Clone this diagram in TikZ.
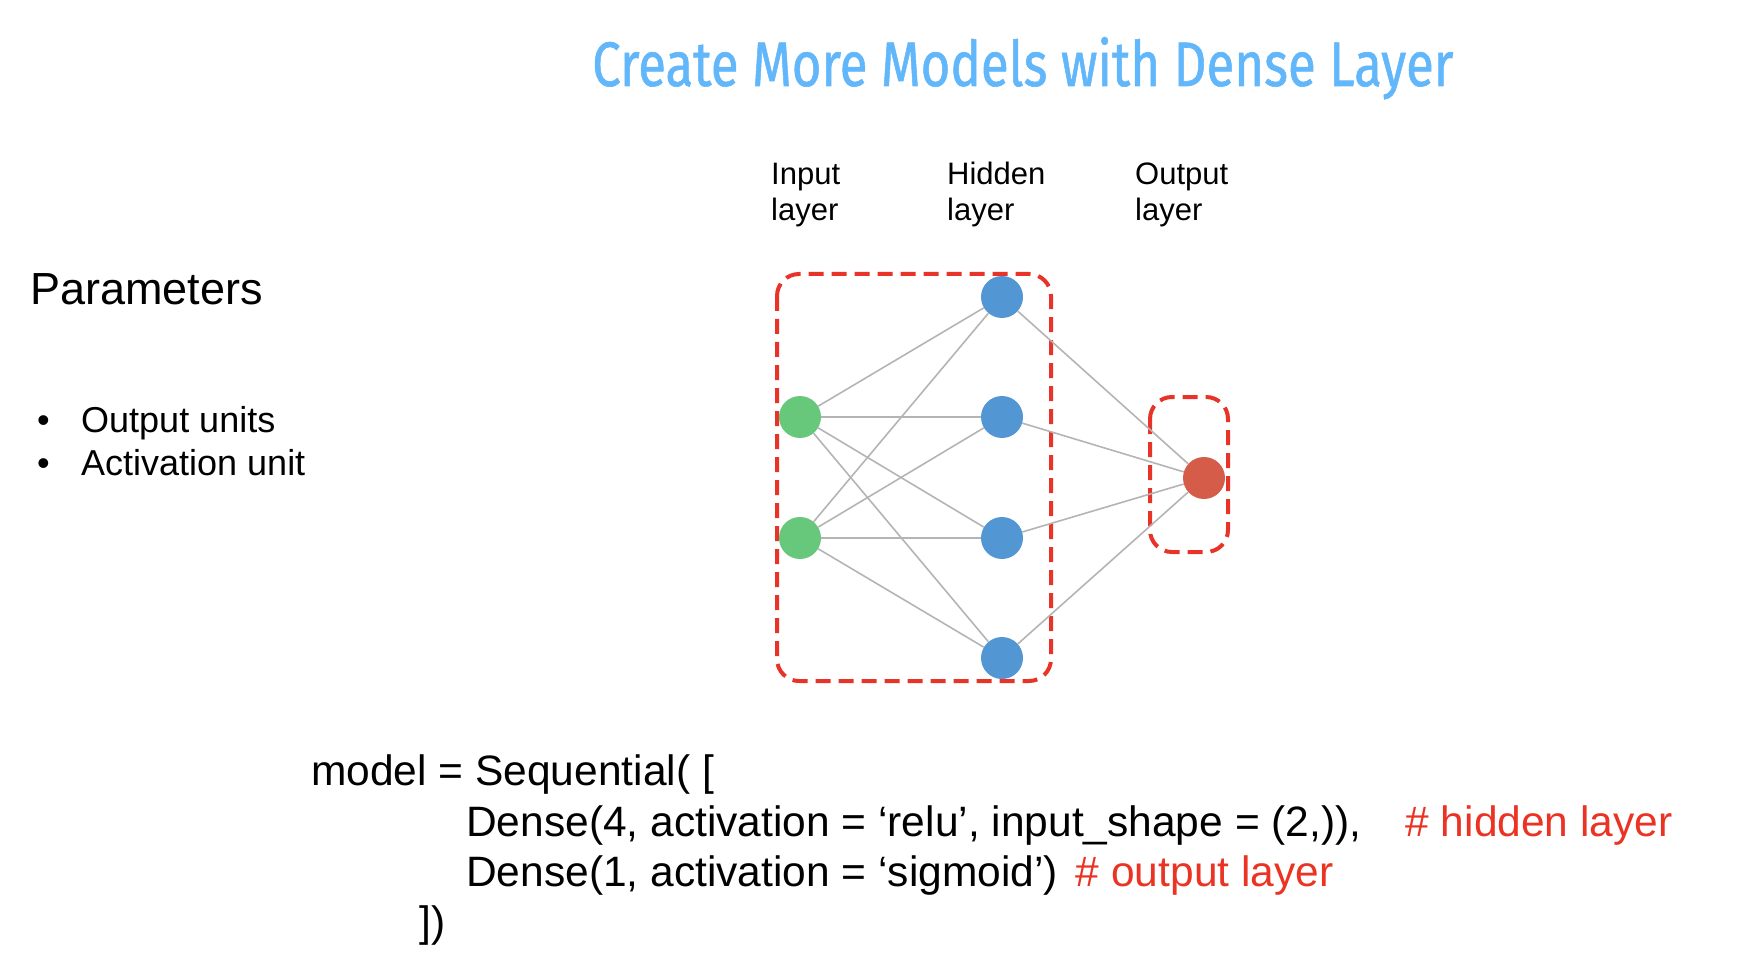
\documentclass[tikz,border=0pt]{standalone}
\usepackage{fontspec}
\setmainfont{Liberation Sans}
\newfontfamily\titlefont[FakeBold=1]{Fira Sans}
\usetikzlibrary{positioning}
\definecolor{title_blue}{RGB}{98,182,250}
\definecolor{box_red}{RGB}{232,52,40}
\definecolor{in_green}{RGB}{103,199,122}
\definecolor{hid_blue}{RGB}{83,150,212}
\definecolor{out_red}{RGB}{214,92,74}
\definecolor{edge_gray}{RGB}{180,180,180}
\definecolor{code_red}{RGB}{235,51,36}

\begin{document}
\begin{tikzpicture}[x=1pt, y=-1pt,
    neuron/.style={circle, minimum size=42pt, inner sep=0pt},
    link/.style={edge_gray, line width=1.6pt},
    group/.style={box_red, line width=4pt, dash pattern=on 15pt off 8pt, rounded corners=22pt},
    layername/.style={anchor=base west, inner sep=0pt, align=left, font=\fontsize{31}{36}\selectfont},
    codeline/.style={anchor=base west, inner sep=0pt, font=\fontsize{42.5}{50}\selectfont}]

      \useasboundingbox (0,0) rectangle (1762,968);

      % 1. Titulo
      \node[anchor=base west, inner sep=0pt, text=title_blue] (title) at (592,86)
        {\resizebox{861pt}{49pt}{\titlefont Create More Models with Dense Layer}};

      % 2. Parametros (izquierda)
      \node[anchor=base west, inner sep=0pt, font=\fontsize{45}{54}\selectfont] (params) at (30,305) {Parameters};
      \node[anchor=base west, inner sep=0pt, font=\fontsize{36}{43}\selectfont] (item1) at (37,432)
        {\makebox[44pt][l]{\textbullet}Output units};
      \node[anchor=base west, inner sep=0pt, font=\fontsize{36}{43}\selectfont] (item2) at (37,475)
        {\makebox[44pt][l]{\textbullet}Activation unit};

      % 3. Nombres de las capas (base = ultima linea)
      \node[layername] (lin) at (771,221) {Input\\layer};
      \node[layername] (lhid) at (947,221) {Hidden\\layer};
      \node[layername] (lout) at (1135,221) {Output\\layer};

      % 4. Cajas discontinuas
      \draw[group] (777,274) rectangle (1051,681);
      \draw[group] (1150,397) rectangle (1228,552);

      % 5. Neuronas
      % Entrada
      \node[neuron, fill=in_green] (in1) at (800,417) {};
      \node[neuron, fill=in_green] (in2) at (800,538) {};
      % Oculta
      \node[neuron, fill=hid_blue] (hid1) at (1002,297) {};
      \node[neuron, fill=hid_blue] (hid2) at (1002,417) {};
      \node[neuron, fill=hid_blue] (hid3) at (1002,538) {};
      \node[neuron, fill=hid_blue] (hid4) at (1002,658) {};
      % Salida
      \node[neuron, fill=out_red] (out) at (1204,478) {};

      % 6. Conexiones
      \draw[link] (in1) -- (hid1);
      \draw[link] (in1) -- (hid2);
      \draw[link] (in1) -- (hid3);
      \draw[link] (in1) -- (hid4);
      \draw[link] (in2) -- (hid1);
      \draw[link] (in2) -- (hid2);
      \draw[link] (in2) -- (hid3);
      \draw[link] (in2) -- (hid4);
      \draw[link] (hid1) -- (out);
      \draw[link] (hid2) -- (out);
      \draw[link] (hid3) -- (out);
      \draw[link] (hid4) -- (out);

      % 7. Codigo
      \node[codeline] (code1) at (311,785) {model = Sequential( [};
      \node[codeline] (code2) at (466,836)
        {Dense(4, activation = ‘relu’, input\_shape = (2,)),\hspace{44pt}\textcolor{code_red}{\# hidden layer}};
      \node[codeline] (code3) at (466,886)
        {Dense(1, activation = ‘sigmoid’)\hspace{18pt}\textcolor{code_red}{\# output layer}};
      \node[codeline] (code4) at (419,936) {])};

\end{tikzpicture}
\end{document}
